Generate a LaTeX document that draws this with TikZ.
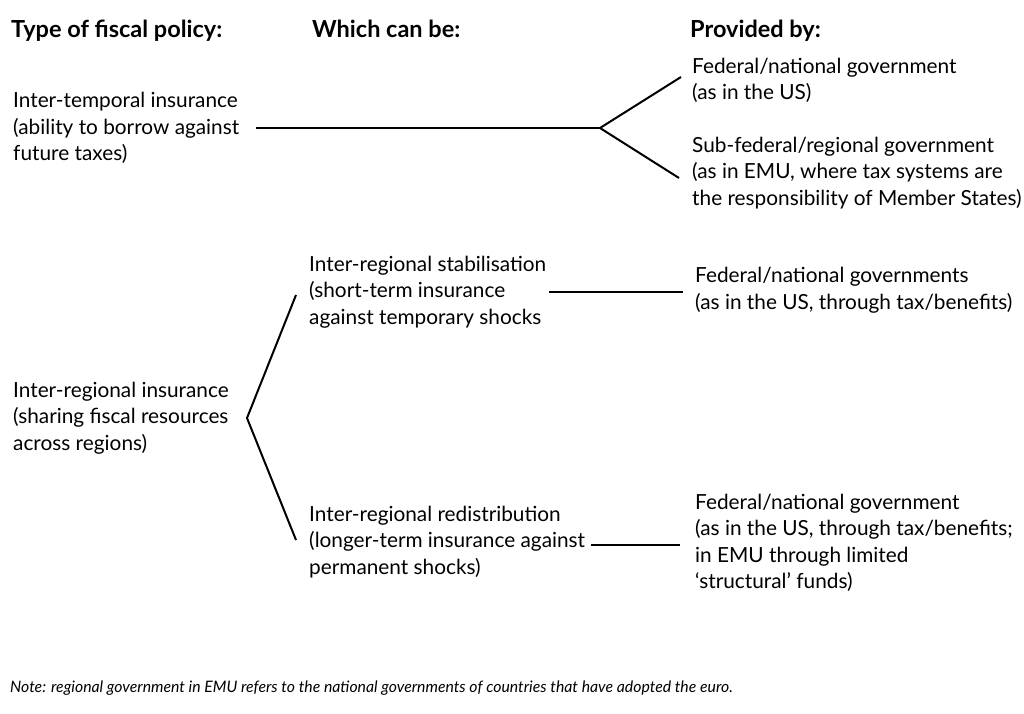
\documentclass[tikz,border=0pt]{standalone}
\usepackage{fontspec}
\setmainfont{Lato}
\begin{document}
\begin{tikzpicture}[x=1pt,y=-1pt,
  txt/.style={anchor=west, align=left, inner sep=0pt, font=\fontsize{20.8}{26.5}\selectfont},
  hdr/.style={anchor=base west, inner sep=0pt, font=\fontsize{23.5}{28}\selectfont\bfseries},
  notestyle/.style={anchor=base west, inner sep=0pt, font=\fontsize{15.8}{18}\selectfont\itshape},
  ln/.style={line width=2pt}]
\useasboundingbox (0,0) rectangle (1024,713);
% headers
\node[hdr] (h1) at (11,37) {Type of fiscal policy:};
\node[hdr] (h2) at (312,37) {Which can be:};
\node[hdr] (h3) at (690,37) {Provided by:};
% column 1
\node[txt] (temporal) at (13,128) {Inter-temporal insurance\\(ability to borrow against\\future taxes)};
\node[txt] (interreg) at (13,418) {Inter-regional insurance\\(sharing fiscal resources\\across regions)};
% column 2
\node[txt] (stab) at (309,292) {Inter-regional stabilisation\\(short-term insurance\\against temporary shocks};
\node[txt] (redis) at (309,542) {Inter-regional redistribution\\(longer-term insurance against\\permanent shocks)};
% column 3
\node[txt] (fedA) at (692,80.5) {Federal/national government\\(as in the US)};
\node[txt] (subfed) at (692,173) {Sub-federal/regional government\\(as in EMU, where tax systems are\\the responsibility of Member States)};
\node[txt] (fedB) at (695,290) {Federal/national governments\\(as in the US, through tax/benefits)};
\node[txt] (fedC) at (695,543) {Federal/national government\\(as in the US, through tax/benefits;\\in EMU through limited\\‘structural’ funds)};
% note
\node[notestyle] (note) at (10,692) {Note: regional government in EMU refers to the national governments of countries that have adopted the euro.};
% connector points
\coordinate (tOut) at (256,128);
\coordinate (j1) at (600,128);
\coordinate (fAin) at (681,77);
\coordinate (sIn) at (679,178);
\coordinate (v) at (247,418);
\coordinate (stIn) at (296,295);
\coordinate (rdIn) at (296,540);
\coordinate (stOut) at (549,292);
\coordinate (fBin) at (683,292);
\coordinate (rdOut) at (591,545);
\coordinate (fCin) at (680,545);
% connectors
\draw[ln] (tOut) -- (j1);
\draw[ln] (j1) -- (fAin);
\draw[ln] (j1) -- (sIn);
\draw[ln] (stIn) -- (v) -- (rdIn);
\draw[ln] (stOut) -- (fBin);
\draw[ln] (rdOut) -- (fCin);
\end{tikzpicture}
\end{document}
